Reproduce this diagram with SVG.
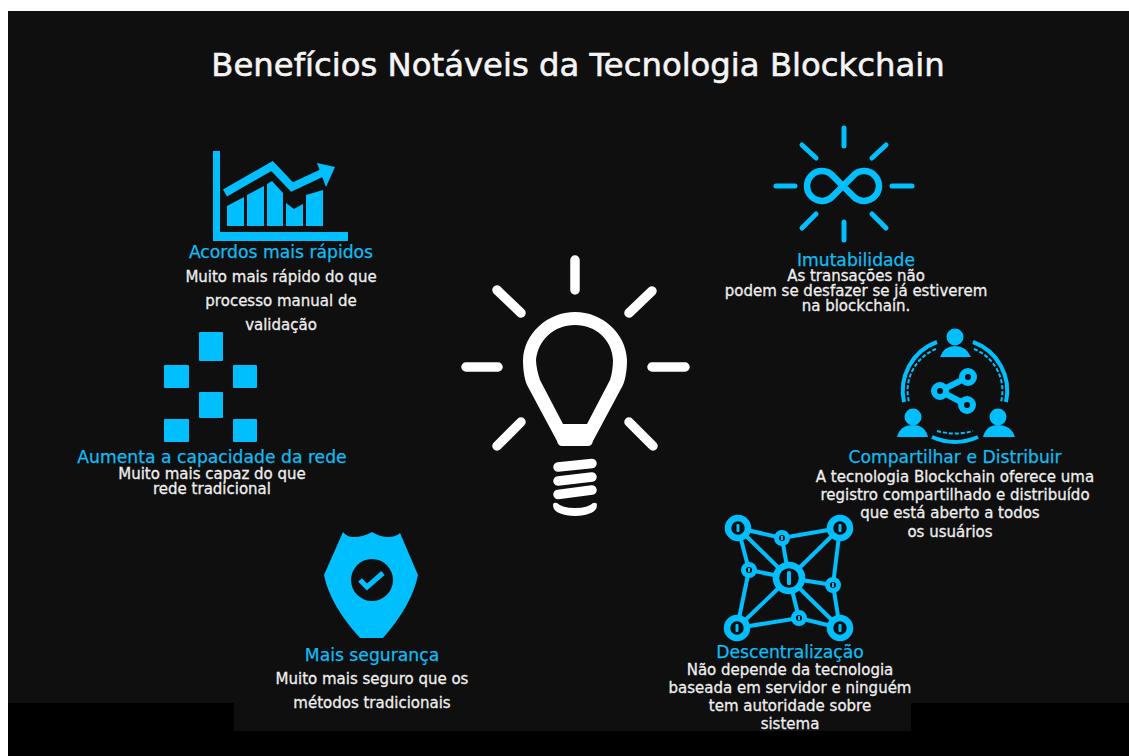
<svg xmlns="http://www.w3.org/2000/svg" width="1129" height="756" viewBox="0 0 1129 756">
<style>
text{font-family:"DejaVu Sans","Liberation Sans",sans-serif;text-anchor:middle}
.t{font-size:32.3px;fill:#f4f4f4;stroke:#f4f4f4;stroke-width:.6}
.h{font-size:17.2px;fill:#0fbdf2;stroke:#0fbdf2;stroke-width:.25}
.b{font-size:15px;fill:#eeeeee;stroke:#eeeeee;stroke-width:.3}
.c{fill:#00bfff}
.ray{stroke:#fff;stroke-width:9.500;stroke-linecap:round;fill:none}
.ray2{stroke:#00bfff;stroke-width:5;stroke-linecap:round;fill:none}
.ln{stroke:#00bfff;stroke-width:4;fill:none}
.ring{fill:#0f0f0f;stroke:#00bfff}
.arc{stroke:#00bfff;stroke-width:4;fill:none}
.dash{stroke:#00bfff;stroke-width:2;stroke-dasharray:4 2;fill:none}
</style>
<rect width="1129" height="756" fill="#fff"/>
<rect x="8" y="11" width="1121" height="692" fill="#0f0f0f"/>
<rect x="8" y="703" width="1121" height="53" fill="#000"/>
<rect x="234" y="703" width="677" height="28" fill="#0f0f0f"/>
<text class="t" x="578" y="76">Benefícios Notáveis da Tecnologia Blockchain</text>
<g id="bulb">
<path fill="#fff" fill-rule="evenodd" d="M557 441L527 385C524 378 523 368 523 360C524 333 548 312 575 312C602 312 626 333 627 360C627 368 626 378 623 385L593 441Q592 446 588 446L562 446Q558 446 557 441ZM563 424L587 424L610 380C612 374 613 366 613 360C612 340 596 325 575 325C554 325 538 340 536 360C536 366 538 374 540 380Z"/>
<path class="ray" d="M575 260V290M497 290L521 313M652 291L629 313M466 367H498M652 367H685M521 422L497 446M629 422L653 446"/>
<path class="ray" d="M558 467L592 463.500M558 481L592 477M558 494.500L592 490"/>
<path fill="#fff" d="M553 505Q553 502 557 503Q562 508 575 508Q588 508 593 503Q597 502 597 505Q597 515 575 516Q553 515 553 505Z"/>
</g>
<g id="acordos">
<path class="c" d="M213 151H220V232H348V241H213Z"/>
<path class="c" d="M227 206L244 197V226H227ZM247 195L264 186V226H247ZM267 184L272 181L283 193V226H267ZM286 203L294 209L303 204V226H286ZM306 195L323 190V226H306Z"/>
<path d="M225 193L272 166L292 187L322 173" fill="none" stroke="#00bfff" stroke-width="8"/>
<path class="c" d="M317 163L335 167L326 187Z"/>
<text class="h" x="281" y="258">Acordos mais rápidos</text>
<text class="b" x="281" y="282">Muito mais rápido do que</text>
<text class="b" x="281" y="306">processo manual de</text>
<text class="b" x="281" y="330">validação</text>
</g>
<g id="capacidade">
<rect class="c" x="199" y="332" width="24" height="29" rx="1"/>
<rect class="c" x="164" y="365" width="25" height="23" rx="1"/>
<rect class="c" x="233" y="365" width="24" height="23" rx="1"/>
<rect class="c" x="199" y="392" width="24" height="26" rx="1"/>
<rect class="c" x="164" y="419" width="25" height="23" rx="1"/>
<rect class="c" x="233" y="419" width="24" height="23" rx="1"/>
<text class="h" x="212" y="463">Aumenta a capacidade da rede</text>
<text class="b" x="212" y="479">Muito mais capaz do que</text>
<text class="b" x="212" y="494">rede tradicional</text>
</g>
<g id="seguranca">
<path class="c" d="M343 532Q347 537 353 537Q364 537 372 532Q380 537 388 537Q396 537 400 533L418 575Q412 605 383 638H360Q330 605 324 575Z"/>
<circle cx="372" cy="580" r="21" fill="#0f0f0f"/>
<path d="M360 580L367 587L383 573" fill="none" stroke="#00bfff" stroke-width="5"/>
<text class="h" x="372" y="661">Mais segurança</text>
<text class="b" x="372" y="684">Muito mais seguro que os</text>
<text class="b" x="372" y="708">métodos tradicionais</text>
</g>
<g id="imutabilidade">
<path class="ray2" d="M844 128V146M892 186H912M776 186H795M844 222V240M802 145L816 158M886 145L872 158M802 228L816 214M886 228L872 214"/>
<path d="M833 176A14.900 14.900 0 1 0 833 196L853 176A14.900 14.900 0 1 1 853 196Z" fill="none" stroke="#00bfff" stroke-width="6.500"/>
<text class="h" x="856" y="266">Imutabilidade</text>
<text class="b" x="856" y="281">As transações não</text>
<text class="b" x="856" y="296">podem se desfazer se já estiverem</text>
<text class="b" x="856" y="311">na blockchain.</text>
</g>
<g id="compartilhar">
<path class="arc" d="M937 342A52 52 0 0 0 904 402M973 342A52 52 0 0 1 1006 402M932 437Q955 447 978 437"/>
<path class="dash" d="M936 349A45 45 0 0 0 909 402M974 349A45 45 0 0 1 1001 402M937 431Q955 436 973 431"/>
<g class="c">
<circle cx="955" cy="337" r="8.500"/><path d="M940 357Q944 346 955 346Q966 346 971 357Z"/>
<circle cx="913" cy="417" r="8.500"/><path d="M897 437Q900 425 913 425Q925 425 928 437Z"/>
<circle cx="998" cy="417" r="8.500"/><path d="M983 437Q986 425 998 425Q1011 425 1015 437Z"/>
</g>
<path d="M968 377L940 391L967 405" fill="none" stroke="#00bfff" stroke-width="6"/>
<g class="ring" stroke-width="6"><circle cx="968" cy="377" r="6"/><circle cx="940" cy="391" r="6"/><circle cx="967" cy="405" r="6"/></g>
<text class="h" x="955" y="463">Compartilhar e Distribuir</text>
<text class="b" x="955" y="482">A tecnologia Blockchain oferece uma</text>
<text class="b" x="955" y="500">registro compartilhado e distribuído</text>
<text class="b" x="950" y="518">que está aberto a todos</text>
<text class="b" x="950" y="537">os usuários</text>
</g>
<g id="descentralizacao">
<path class="ln" d="M738 528L782 538L840 528L833 585L840 628L799 618L737 628L749 570ZM738 528L789 578L840 628M840 528L789 578L737 628M782 538L789 578L799 618M749 570L789 578L833 585"/>
<g class="ring" stroke-width="6.500">
<circle cx="738" cy="528" r="10"/><circle cx="840" cy="528" r="10"/><circle cx="737" cy="628" r="10"/><circle cx="840" cy="628" r="10"/>
<circle cx="789" cy="578" r="13"/>
</g>
<g class="ring" stroke-width="5">
<circle cx="782" cy="538" r="5.500"/><circle cx="749" cy="570" r="5.500"/><circle cx="833" cy="585" r="5.500"/><circle cx="799" cy="618" r="5.500"/>
</g>
<g class="c">
<rect x="736.500" y="524" width="3" height="8" rx="1"/><rect x="838.500" y="524" width="3" height="8" rx="1"/><rect x="735.500" y="624" width="3" height="8" rx="1"/><rect x="838.500" y="624" width="3" height="8" rx="1"/>
<rect x="787" y="571" width="4" height="14" rx="1.500"/>
<rect x="781" y="536" width="2" height="4"/><rect x="748" y="568" width="2" height="4"/><rect x="832" y="583" width="2" height="4"/><rect x="798" y="616" width="2" height="4"/>
</g>
<text class="h" x="790" y="658">Descentralização</text>
<text class="b" x="790" y="675">Não depende da tecnologia</text>
<text class="b" x="790" y="693">baseada em servidor e ninguém</text>
<text class="b" x="790" y="711">tem autoridade sobre</text>
<text class="b" x="790" y="729">sistema</text>
</g>
</svg>
